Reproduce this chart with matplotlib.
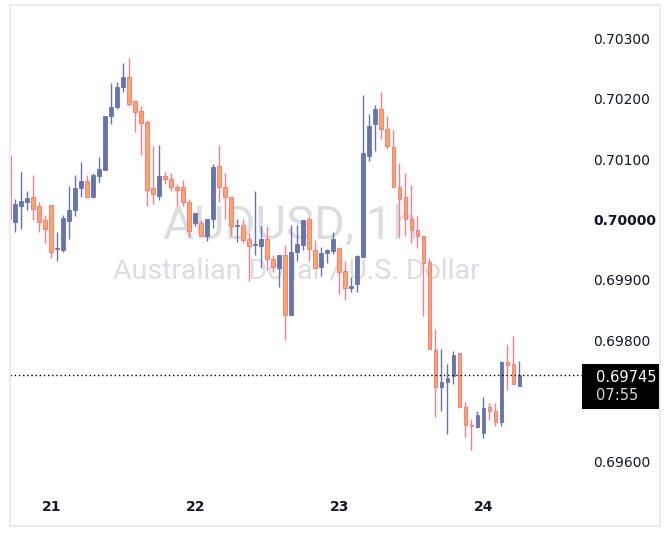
import matplotlib
matplotlib.use("Agg")
import matplotlib.pyplot as plt
import matplotlib.transforms as mtransforms
from matplotlib.patches import Rectangle
import numpy as np

# hourly AUDUSD candles
opens = [0.70108, 0.69999, 0.70025, 0.70032, 0.70040, 0.70025, 0.70002, 0.70026, 0.69953, 0.69952,
         0.70000, 0.70019, 0.70055, 0.70066, 0.70040, 0.70075, 0.70085, 0.70174, 0.70188, 0.70221,
         0.70238, 0.70199, 0.70182, 0.70164, 0.70054, 0.70042, 0.70074, 0.70070, 0.70057, 0.70056,
         0.70031, 0.69997, 0.69997, 0.69976, 0.70003, 0.70091, 0.70056, 0.70039, 0.69991, 0.69993,
         0.69970, 0.69961, 0.69959, 0.69971, 0.69937, 0.69923, 0.69944, 0.69845, 0.69948, 0.69961,
         0.70003, 0.69952, 0.69924, 0.69947, 0.69951, 0.69955, 0.69917, 0.69889, 0.69895, 0.69941,
         0.70108, 0.70160, 0.70185, 0.70152, 0.70122, 0.70057, 0.70039, 0.70004, 0.69985, 0.69975,
         0.69932, 0.69786, 0.69726, 0.69733, 0.69743, 0.69781, 0.69692, 0.69661, 0.69659, 0.69649,
         0.69692, 0.69686, 0.69668, 0.69766, 0.69763, 0.69727]
closes = [0.70003, 0.70028, 0.70033, 0.70038, 0.70020, 0.69999, 0.69987, 0.69948, 0.69954, 0.70005,
          0.70018, 0.70055, 0.70066, 0.70039, 0.70076, 0.70086, 0.70174, 0.70189, 0.70222, 0.70238,
          0.70194, 0.70180, 0.70162, 0.70052, 0.70044, 0.70074, 0.70069, 0.70057, 0.70052, 0.70031,
          0.69983, 0.70013, 0.69976, 0.70003, 0.70089, 0.70056, 0.70039, 0.69991, 0.69992, 0.69969,
          0.69959, 0.69962, 0.69971, 0.69937, 0.69924, 0.69944, 0.69844, 0.69949, 0.69962, 0.70002,
          0.69953, 0.69923, 0.69947, 0.69952, 0.69970, 0.69915, 0.69889, 0.69892, 0.69942, 0.70113,
          0.70157, 0.70185, 0.70152, 0.70124, 0.70057, 0.70036, 0.70004, 0.69985, 0.69976, 0.69930,
          0.69788, 0.69726, 0.69733, 0.69740, 0.69778, 0.69692, 0.69662, 0.69660, 0.69679, 0.69691,
          0.69686, 0.69668, 0.69767, 0.69761, 0.69730, 0.69745]
highs = [0.70108, 0.70036, 0.70081, 0.70050, 0.70076, 0.70031, 0.70010, 0.70026, 0.69982, 0.70010,
         0.70058, 0.70076, 0.70098, 0.70076, 0.70079, 0.70106, 0.70174, 0.70228, 0.70230, 0.70261,
         0.70270, 0.70199, 0.70190, 0.70167, 0.70124, 0.70126, 0.70081, 0.70079, 0.70061, 0.70068,
         0.70036, 0.70013, 0.70001, 0.70003, 0.70094, 0.70126, 0.70079, 0.70039, 0.70004, 0.70003,
         0.69980, 0.70050, 0.69991, 0.69991, 0.69944, 0.69944, 0.69960, 0.69994, 0.69994, 0.70002,
         0.70008, 0.69969, 0.69957, 0.69954, 0.69981, 0.69956, 0.69933, 0.69907, 0.69944, 0.70209,
         0.70177, 0.70192, 0.70213, 0.70173, 0.70151, 0.70096, 0.70079, 0.70060, 0.70008, 0.69975,
         0.69939, 0.69822, 0.69788, 0.69763, 0.69785, 0.69781, 0.69700, 0.69672, 0.69686, 0.69708,
         0.69699, 0.69699, 0.69769, 0.69796, 0.69810, 0.69768]
lows = [0.70003, 0.69982, 0.69987, 0.70018, 0.70002, 0.69982, 0.69964, 0.69939, 0.69934, 0.69948,
        0.69971, 0.70009, 0.70040, 0.70039, 0.70039, 0.70065, 0.70085, 0.70161, 0.70185, 0.70213,
        0.70190, 0.70147, 0.70109, 0.70025, 0.70028, 0.70035, 0.70061, 0.70050, 0.70025, 0.70025,
        0.69974, 0.69991, 0.69973, 0.69967, 0.69988, 0.70032, 0.70004, 0.69976, 0.69965, 0.69963,
        0.69900, 0.69944, 0.69922, 0.69919, 0.69916, 0.69890, 0.69803, 0.69845, 0.69934, 0.69952,
        0.69934, 0.69922, 0.69909, 0.69930, 0.69945, 0.69880, 0.69869, 0.69882, 0.69882, 0.69941,
        0.70100, 0.70116, 0.70135, 0.70120, 0.70057, 0.69974, 0.69976, 0.69964, 0.69956, 0.69842,
        0.69788, 0.69675, 0.69686, 0.69647, 0.69731, 0.69692, 0.69643, 0.69621, 0.69657, 0.69641,
        0.69671, 0.69660, 0.69661, 0.69721, 0.69730, 0.69727]

day_labels = ["21", "22", "23", "24"]
day_index = [7, 31, 55, 79]
# 0.69700 sits behind the last-price box, so it is left out
price_ticks = [0.696, 0.698, 0.699, 0.700, 0.701, 0.702, 0.703]
last_price = "0.69745"
countdown = "07:55"

up_col = "#6674AA"
down_fill = "#FDA95F"
down_edge = "#F2818C"

W, H = 670, 540
fig = plt.figure(figsize=(W / 100, H / 100), dpi=100)
fig.patch.set_facecolor("white")
ax = fig.add_axes([10 / W, 1 - 490 / H, 567 / W, 485 / H])
ax.set_facecolor("white")
for s in ax.spines.values():
    s.set_visible(False)
ax.set_xticks([])
ax.set_yticks([])

ax.set_xlim(0.12, 94.6)
ax.set_ylim(0.695548, 0.703575)

# watermark
ax.text(0.495, 0.546, "AUDUSD, 1h", transform=ax.transAxes, ha="center", va="center",
        fontsize=34, family="Roboto", color="#DCDDE1", zorder=0)
ax.text(0.505, 0.452, "Australian Dollar / U.S. Dollar", transform=ax.transAxes, ha="center",
        va="center", fontsize=20.5, family="Roboto", color="#DCDDE1", zorder=0)

x = np.arange(len(opens))
o = np.array(opens)
c = np.array(closes)
up = c >= o
cols = np.where(up, up_col, down_edge)
ax.vlines(x, lows, highs, colors=cols, linewidth=1.0, zorder=2)
bottom = np.minimum(o, c)
height = np.maximum(np.abs(c - o), 1.6e-5)
ax.bar(x[up], height[up], bottom=bottom[up], width=0.62, color=up_col,
       edgecolor=up_col, linewidth=0.6, zorder=3)
ax.bar(x[~up], height[~up], bottom=bottom[~up], width=0.62, color=down_fill,
       edgecolor=down_edge, linewidth=0.8, zorder=3)

# last price dotted line
lp = float(last_price)
trans = mtransforms.blended_transform_factory(ax.transAxes, ax.transData)
ax.plot([0, 1.01], [lp, lp], transform=trans, color="black", linestyle=(0, (1, 2)),
        linewidth=1, clip_on=False, zorder=4)

# right price scale
for p in price_ticks:
    ax.text(1 + 16 / 567, p, f"{p:.5f}", transform=trans, ha="left", va="center",
            fontsize=10, color="#131722", clip_on=False,
            fontweight="bold" if abs(p - 0.700) < 1e-9 else "normal")

# day labels
transx = mtransforms.blended_transform_factory(ax.transData, ax.transAxes)
for d, i in zip(day_labels, day_index):
    ax.text(i, -17 / 485, d, transform=transx, ha="center", va="center",
            fontsize=10, fontweight="bold", color="#131722", clip_on=False)

# price label box
fig.patches.append(Rectangle((582 / W, 1 - 409 / H), 78 / W, 45 / H,
                             transform=fig.transFigure, facecolor="black",
                             edgecolor="none", zorder=5))
fig.text(596 / W, 1 - 377 / H, last_price, ha="left", va="center", fontsize=10.5,
         color="white", zorder=6)
fig.text(596 / W, 1 - 396 / H, countdown, ha="left", va="center", fontsize=10.5,
         color="#D1D4DC", zorder=6)

# outer frame
fig.patches.append(Rectangle((10 / W, 1 - 526 / H), 650 / W, 521 / H,
                             transform=fig.transFigure, facecolor="none",
                             edgecolor="#EBEBEB", linewidth=1.5, zorder=7))

fig.savefig("out.png", dpi=100)
